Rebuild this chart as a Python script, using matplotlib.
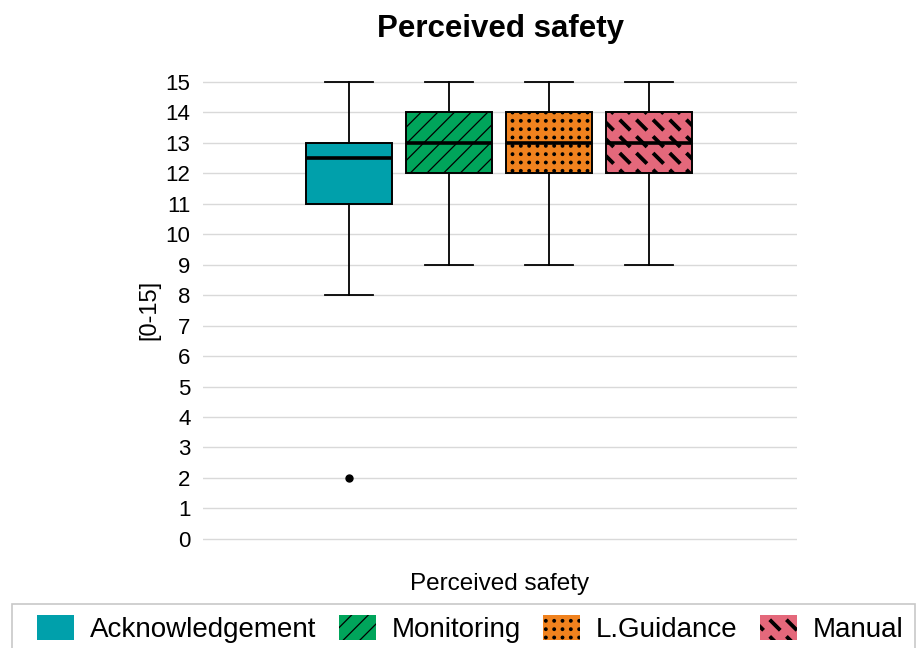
import numpy as np
import matplotlib
matplotlib.use('Agg')
from matplotlib import pyplot as plt
from matplotlib import hatch as mhatch
from matplotlib.path import Path
from matplotlib.patches import Patch, Rectangle

plt.rcParams['font.family'] = ['Liberation Sans', 'DejaVu Sans']
plt.rcParams['hatch.linewidth'] = 0.9

groups = ['Acknowledgement', 'Monitoring', 'L.Guidance', 'Manual']
colors = ['#00A0AB', '#00A55B', '#F0821E', '#E4687B']
hatches = ['', '//', '.', '*']

whislo = [8, 9, 9, 9]
q1 = [11, 12, 12, 12]
med = [12.5, 13, 13, 13]
q3 = [13, 14, 14, 14]
whishi = [15, 15, 15, 15]
fliers = [[2], [], [], []]


class GridMarks(mhatch.HatchPatternBase):
    # small filled shapes laid out on a square (not staggered) grid
    char = '*'
    scale = 1.0
    shape = None

    def __init__(self, hatch, density):
        self.n = int(round(hatch.count(self.char) * density * self.scale))
        self.num_vertices = self.n * self.n * len(self.shape) if self.n else 0

    def set_vertices_and_codes(self, vertices, codes):
        step = 1.0 / self.n
        c = (np.arange(self.n) + 0.5) * step
        xs, ys = np.meshgrid(c, c)
        centers = np.stack([xs.ravel(), ys.ravel()], axis=1)
        k = len(self.shape)
        pts = centers[:, None, :] + self.shape[None] * step
        vertices[:] = pts.reshape(-1, 2)
        cc = np.full((len(centers), k), Path.LINETO, dtype=Path.code_type)
        cc[:, 0] = Path.MOVETO
        cc[:, -1] = Path.CLOSEPOLY
        codes[:] = cc.ravel()


class Dashes(GridMarks):
    char = '*'
    scale = 1.0
    h, w = 0.29, 0.055
    shape = np.array([[-h - w, h - w], [-h + w, h + w], [h + w, -h + w],
                      [h - w, -h - w], [-h - w, h - w]])


class Dots(GridMarks):
    char = '.'
    scale = 2.0
    t = np.linspace(0, 2 * np.pi, 9)
    shape = 0.16 * np.stack([np.cos(t), np.sin(t)], axis=1)


types = mhatch._hatch_types
types[types.index(mhatch.Stars)] = Dashes
types[types.index(mhatch.SmallFilledCircles)] = Dots

stats = []
for i in range(len(groups)):
    stats.append(dict(med=med[i], q1=q1[i], q3=q3[i], whislo=whislo[i],
                      whishi=whishi[i], fliers=fliers[i], label=groups[i]))

fig = plt.figure(figsize=(9.2, 6.48), dpi=100)
ax = fig.add_axes([0.2207, 0.159, 0.6456, 0.724])

positions = np.arange(len(groups))
bp = ax.bxp(stats, positions=positions, widths=0.86, patch_artist=True,
            showfliers=True,
            boxprops=dict(linewidth=1.4, edgecolor='black'),
            medianprops=dict(color='black', linewidth=2.6),
            whiskerprops=dict(linewidth=1.3),
            capprops=dict(linewidth=1.3),
            capwidths=0.48,
            flierprops=dict(marker='o', markerfacecolor='black',
                            markeredgecolor='black', markersize=5))
for box, col, h in zip(bp['boxes'], colors, hatches):
    box.set_facecolor(col)
    box.set_hatch(h)

ax.set_xlim(-1.46, 4.48)
ax.set_ylim(-0.2, 15.2)
ax.set_yticks(range(0, 16))
ax.set_xticks([])
ax.tick_params(axis='y', length=0, labelsize=16, pad=9)
ax.yaxis.grid(True, color='#d9d9d9', linewidth=1)
ax.set_axisbelow(True)
for s in ax.spines.values():
    s.set_visible(False)

ax.set_ylabel('[0-15]', fontsize=17, labelpad=4)
ax.set_xlabel('Perceived safety', fontsize=17.5, labelpad=20)
ax.set_title('Perceived safety', fontsize=22.5, fontweight='bold', pad=28)

# legend frame runs past the bottom of the figure
W, H = 920, 648
fig.patches.append(Rectangle((12 / W, -0.05), (915 - 12) / W, 1 - 604 / H + 0.05,
                             transform=fig.transFigure, fill=False,
                             edgecolor='#c8c8c8', linewidth=1.2))
handles = [Patch(facecolor=c, hatch=h, edgecolor='black', linewidth=0, label=g)
           for g, c, h in zip(groups, colors, hatches)]
fig.legend(handles=handles, loc='upper left', bbox_to_anchor=(37 / W, 1 - 615 / H),
           ncol=4, fontsize=20, frameon=False,
           handlelength=1.33, handleheight=1.0, handletextpad=0.58, columnspacing=0.8,
           borderaxespad=0, borderpad=0)

fig.savefig('out.png', dpi=100)
